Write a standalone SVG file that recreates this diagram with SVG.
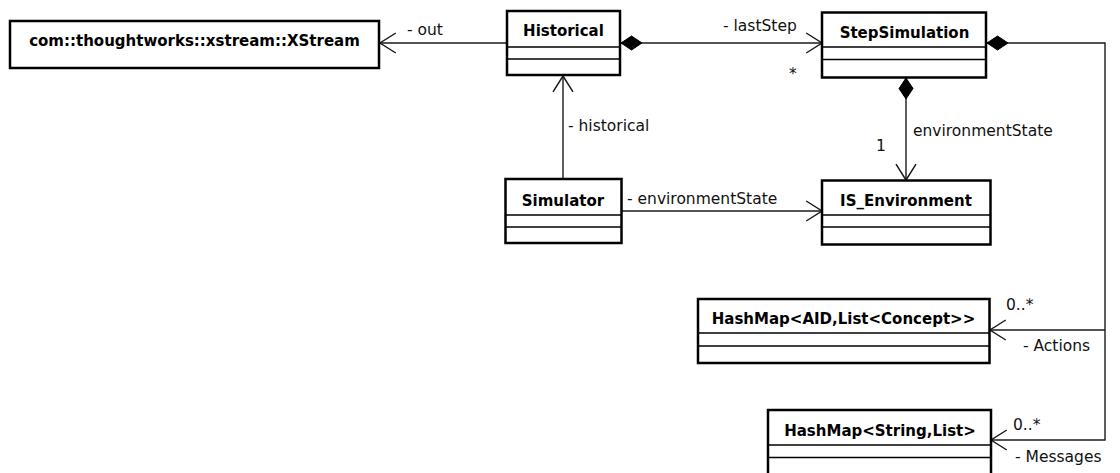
<svg xmlns="http://www.w3.org/2000/svg" width="1120" height="473" viewBox="0 0 1120 473">
  <style>
    .box { fill: #ffffff; stroke: #000000; stroke-width: 2.5; }
    .sep { stroke: #000000; stroke-width: 1.5; fill: none; }
    .name { font-family: "DejaVu Sans", "Liberation Sans", sans-serif; font-weight: bold; font-size: 15px; fill: #000000; text-anchor: middle; }
    .edge { stroke: #1a1a1a; stroke-width: 1.4; fill: none; }
    .lbl { font-family: "DejaVu Sans", "Liberation Sans", sans-serif; font-size: 15.5px; fill: #111111; }
  </style>
  <defs>
    <marker id="open" markerUnits="userSpaceOnUse" markerWidth="20" markerHeight="24" refX="0" refY="0" viewBox="-17 -11 19 22" orient="auto" overflow="visible">
      <path d="M -15 -9.5 L 0 0 L -15 9.5" fill="none" stroke="#1a1a1a" stroke-width="1.4"/>
    </marker>
    <marker id="diamond" markerUnits="userSpaceOnUse" markerWidth="24" markerHeight="16" refX="0" refY="0" viewBox="-1 -8 24 16" orient="auto" overflow="visible">
      <path d="M 0 0 L 10.5 -7 L 21 0 L 10.5 7 Z" fill="#000000" stroke="#000000" stroke-width="1"/>
    </marker>
  </defs>

  <!-- associations and compositions -->
  <g id="connectors">
    <path class="edge" d="M 506 43 L 380 43" marker-end="url(#open)"/>
    <path class="edge" d="M 621 43 L 822 43" marker-start="url(#diamond)" marker-end="url(#open)"/>
    <path class="edge" d="M 563 178 L 563 76" marker-end="url(#open)"/>
    <path class="edge" d="M 622 211 L 822 211" marker-end="url(#open)"/>
    <path class="edge" d="M 906 78 L 906 180" marker-start="url(#diamond)" marker-end="url(#open)"/>
    <path class="edge" d="M 987 43 L 1105 43 L 1105 440 L 991 440" marker-start="url(#diamond)" marker-end="url(#open)"/>
    <path class="edge" d="M 1105 330 L 990 330" marker-end="url(#open)"/>

    <text class="lbl" x="407" y="35">- out</text>
    <text class="lbl" x="723" y="31">- lastStep</text>
    <text class="lbl" x="789" y="79">*</text>
    <text class="lbl" x="568" y="131">- historical</text>
    <text class="lbl" x="627" y="204">- environmentState</text>
    <text class="lbl" x="913" y="136">environmentState</text>
    <text class="lbl" x="876" y="151">1</text>
    <text class="lbl" x="1006" y="310">0..*</text>
    <text class="lbl" x="1023" y="351">- Actions</text>
    <text class="lbl" x="1013" y="430">0..*</text>
    <text class="lbl" x="1015" y="462">- Messages</text>
  </g>

  <g id="xstream">
    <rect class="box" x="10" y="21" width="369" height="47"/>
    <text class="name" x="194.5" y="45.5">com::thoughtworks::xstream::XStream</text>
  </g>

  <g id="historical">
    <rect class="box" x="507" y="11" width="113" height="64"/>
    <line class="sep" x1="507" y1="47" x2="620" y2="47"/>
    <line class="sep" x1="507" y1="59" x2="620" y2="59"/>
    <text class="name" x="563.5" y="36">Historical</text>
  </g>

  <g id="stepSimulation">
    <rect class="box" x="822" y="12.5" width="164" height="65"/>
    <line class="sep" x1="822" y1="47" x2="986" y2="47"/>
    <line class="sep" x1="822" y1="59.5" x2="986" y2="59.5"/>
    <text class="name" x="904.5" y="37.5">StepSimulation</text>
  </g>

  <g id="simulator">
    <rect class="box" x="505.5" y="179" width="116" height="64"/>
    <line class="sep" x1="505.5" y1="215" x2="621.5" y2="215"/>
    <line class="sep" x1="505.5" y1="227" x2="621.5" y2="227"/>
    <text class="name" x="563" y="206">Simulator</text>
  </g>

  <g id="isEnvironment">
    <rect class="box" x="822" y="180.5" width="168.5" height="64"/>
    <line class="sep" x1="822" y1="215" x2="990.5" y2="215"/>
    <line class="sep" x1="822" y1="227" x2="990.5" y2="227"/>
    <text class="name" x="906" y="206">IS_Environment</text>
  </g>

  <g id="actionsMap">
    <rect class="box" x="698" y="299" width="291.5" height="64"/>
    <line class="sep" x1="698" y1="333" x2="989.5" y2="333"/>
    <line class="sep" x1="698" y1="346" x2="989.5" y2="346"/>
    <text class="name" x="843.5" y="324">HashMap&lt;AID,List&lt;Concept&gt;&gt;</text>
  </g>

  <g id="messagesMap">
    <rect class="box" x="768" y="410" width="223" height="80"/>
    <line class="sep" x1="768" y1="445" x2="991" y2="445"/>
    <line class="sep" x1="768" y1="457.5" x2="991" y2="457.5"/>
    <text class="name" x="880" y="436">HashMap&lt;String,List&gt;</text>
  </g>
</svg>
